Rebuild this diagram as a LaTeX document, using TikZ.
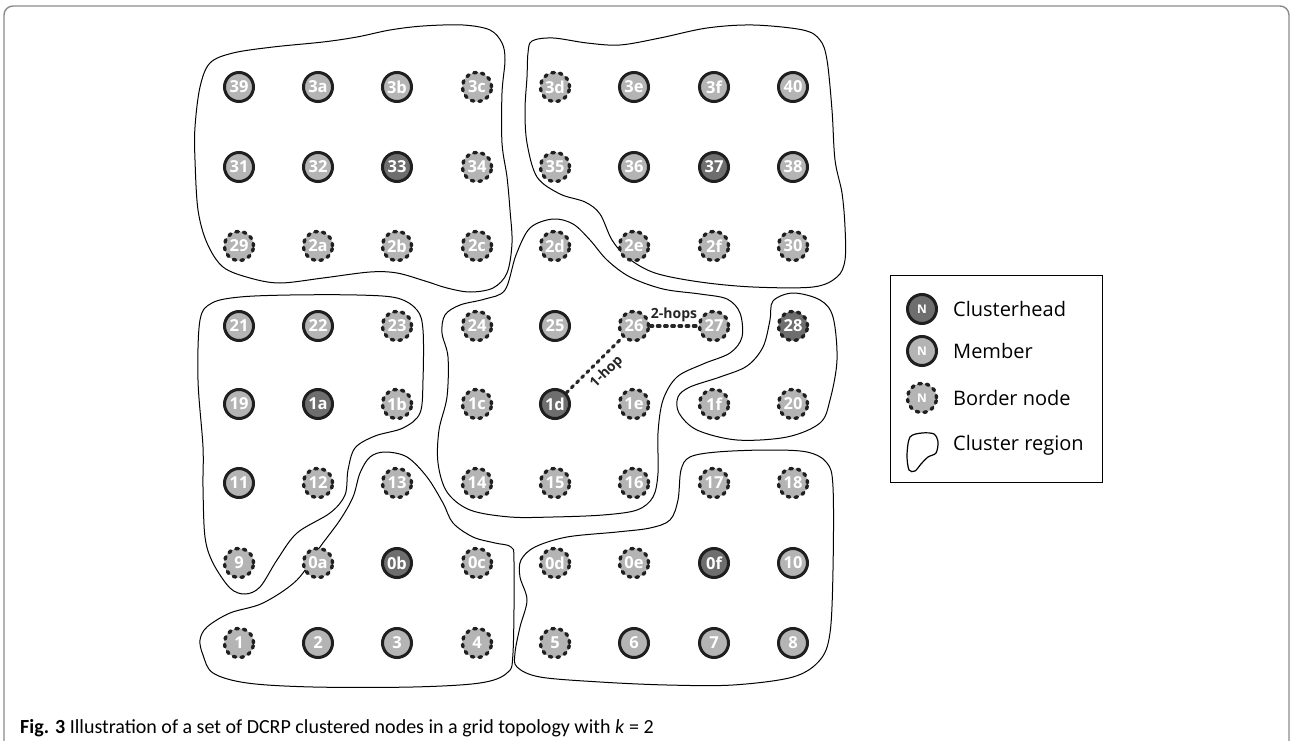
\documentclass[tikz,border=0pt]{standalone}
\usepackage{fontspec}
\setmainfont{Open Sans}
\newfontfamily\capfont{Carlito}
\definecolor{headgray}{HTML}{6E6E6E}
\definecolor{memgray}{HTML}{B4B4B4}
\definecolor{framegray}{HTML}{8A8A8A}
\tikzset{
  nd/.style={circle, minimum size=29pt, inner sep=0pt, line width=3pt,
    draw=black!88, text=white, font=\fontsize{16.5}{16.5}\selectfont\bfseries},
  chead/.style={nd, fill=headgray},
  member/.style={nd, fill=memgray},
  bnode/.style={nd, fill=memgray, line width=3.4pt, dash pattern=on 2.6pt off 5.2pt, line cap=round},
  bhead/.style={bnode, fill=headgray},
  legnd/.style={font=\fontsize{12}{12}\selectfont\bfseries},
  region/.style={line width=1pt, black},
  hop/.style={line width=3.2pt, black!85, dash pattern=on 2.6pt off 4.6pt, line cap=round},
  hoplabel/.style={font=\fontsize{14}{14}\selectfont\bfseries, text=black!85, inner sep=0pt},
  legtext/.style={anchor=west, font=\fontsize{20}{20}\selectfont, inner sep=0pt}
}
\begin{document}
\begin{tikzpicture}[x=1pt, y=-1pt]
\useasboundingbox (0,0) rectangle (1291,741);
% outer frame
\draw[framegray, line width=1.4pt, rounded corners=9pt] (4,6) rectangle (1289,760);

% cluster regions
\draw[region] plot[smooth cycle, tension=0.55] coordinates {
  (210,63) (233,53) (273,47) (323,42) (357,37) (390,30) (423,26) (463,25) (490,30)
  (502,43) (505,60) (502,93) (502,143) (507,177) (510,210) (512,243) (507,273)
  (493,288) (470,292) (447,288) (425,281) (397,273) (370,272) (323,278) (280,283)
  (250,278) (223,267) (207,243) (198,210) (195,160) (195,127) (200,87)};
\draw[region] plot[smooth cycle, tension=0.55] coordinates {
  (528,53) (532,41) (553,38) (587,43) (620,45) (660,38) (707,28) (753,25) (803,30)
  (820,40) (827,60) (832,110) (835,160) (842,193) (845,227) (845,260) (837,277)
  (813,287) (753,287) (700,282) (655,273) (628,258) (612,240) (600,214) (585,202)
  (560,194) (537,177) (527,143) (525,110) (527,77)};
\draw[region] plot[smooth cycle, tension=0.55] coordinates {
  (516,255) (530,228) (553,219) (573,224) (590,240) (607,260) (630,277) (663,289)
  (700,294) (727,299) (740,313) (742,337) (730,353) (703,364) (677,377) (663,400)
  (658,433) (658,473) (653,497) (637,510) (603,515) (553,517) (510,517) (470,510)
  (447,492) (438,463) (439,430) (447,397) (448,357) (442,333) (445,315) (460,305)
  (485,299) (505,290)};
\draw[region] plot[smooth cycle, tension=0.55] coordinates {
  (200,320) (212,303) (240,297) (290,295) (357,295) (397,298) (417,310) (423,330)
  (423,380) (420,413) (403,428) (375,436) (355,448) (348,470) (345,495) (330,513)
  (297,533) (277,560) (260,587) (245,594) (230,588) (213,563) (205,537) (203,487)
  (203,447) (198,380)};
\draw[region] plot[smooth cycle, tension=0.55] coordinates {
  (514,562) (513,653) (507,673) (480,683) (413,687) (313,687) (247,683) (213,673)
  (203,655) (200,640) (207,627) (230,613) (263,603) (297,580) (320,547) (340,520)
  (353,497) (360,473) (370,457) (385,452) (407,457) (427,477) (443,503) (453,523)
  (473,537) (495,543) (511,547)};
\draw[region] plot[smooth cycle, tension=0.55] coordinates {
  (681,470) (690,457) (717,452) (767,450) (807,452) (827,463) (833,487) (833,570)
  (830,633) (820,660) (793,677) (733,685) (667,685) (600,682) (540,677) (517,667)
  (515,653) (520,627) (527,600) (520,577) (521,560) (535,547) (567,537) (617,532)
  (650,528) (670,520) (678,500)};
\draw[region] plot[smooth cycle, tension=0.55] coordinates {
  (773,301) (793,293) (820,300) (833,317) (837,360) (830,400) (820,423) (787,437)
  (737,440) (697,430) (679,413) (678,397) (690,387) (720,377) (747,366) (763,347)
  (770,320)};

% grid of nodes, row by row
\node[member] (n39) at (239,87) {39};
\node[member] (n3a) at (318,87) {3a};
\node[member] (n3b) at (397,87) {3b};
\node[bnode]  (n3c) at (477,87) {3c};
\node[bnode]  (n3d) at (555,87) {3d};
\node[member] (n3e) at (634,87) {3e};
\node[member] (n3f) at (714,87) {3f};
\node[member] (n40) at (793,87) {40};

\node[member] (n31) at (239,167) {31};
\node[member] (n32) at (318,167) {32};
\node[chead]  (n33) at (397,167) {33};
\node[bnode]  (n34) at (477,167) {34};
\node[bnode]  (n35) at (555,167) {35};
\node[member] (n36) at (634,167) {36};
\node[chead]  (n37) at (714,167) {37};
\node[member] (n38) at (793,167) {38};

\node[bnode] (n29) at (239,246) {29};
\node[bnode] (n2a) at (318,246) {2a};
\node[bnode] (n2b) at (397,246) {2b};
\node[bnode] (n2c) at (477,246) {2c};
\node[bnode] (n2d) at (555,246) {2d};
\node[bnode] (n2e) at (634,246) {2e};
\node[bnode] (n2f) at (714,246) {2f};
\node[bnode] (n30) at (793,246) {30};

\node[member] (n21) at (239,326) {21};
\node[member] (n22) at (318,326) {22};
\node[bnode]  (n23) at (397,326) {23};
\node[bnode]  (n24) at (477,326) {24};
\node[member] (n25) at (555,326) {25};
\node[bnode]  (n26) at (634,326) {26};
\node[bnode]  (n27) at (714,326) {27};
\node[bhead]  (n28) at (793,326) {28};

\node[member] (n19) at (239,404) {19};
\node[chead]  (n1a) at (318,404) {1a};
\node[bnode]  (n1b) at (397,404) {1b};
\node[bnode]  (n1c) at (477,404) {1c};
\node[chead]  (n1d) at (555,404) {1d};
\node[bnode]  (n1e) at (634,404) {1e};
\node[bnode]  (n1f) at (714,404) {1f};
\node[bnode]  (n20) at (793,404) {20};

\node[member] (n11) at (239,483) {11};
\node[bnode]  (n12) at (318,483) {12};
\node[bnode]  (n13) at (397,483) {13};
\node[bnode]  (n14) at (477,483) {14};
\node[bnode]  (n15) at (555,483) {15};
\node[bnode]  (n16) at (634,483) {16};
\node[bnode]  (n17) at (714,483) {17};
\node[bnode]  (n18) at (793,483) {18};

\node[bnode]  (n9)  at (239,563) {9};
\node[bnode]  (n0a) at (318,563) {0a};
\node[chead]  (n0b) at (397,563) {0b};
\node[bnode]  (n0c) at (477,563) {0c};
\node[bnode]  (n0d) at (555,563) {0d};
\node[bnode]  (n0e) at (634,563) {0e};
\node[chead]  (n0f) at (714,563) {0f};
\node[member] (n10) at (793,563) {10};

\node[bnode]  (n1) at (239,643) {1};
\node[member] (n2) at (318,643) {2};
\node[member] (n3) at (397,643) {3};
\node[bnode]  (n4) at (477,643) {4};
\node[bnode]  (n5) at (555,643) {5};
\node[member] (n6) at (634,643) {6};
\node[member] (n7) at (714,643) {7};
\node[member] (n8) at (793,643) {8};

% hop distances from the clusterhead 1d
\draw[hop] (n1d) -- (n26) node[hoplabel, pos=0.55, sloped, below=5pt] {1-hop};
\draw[hop] (n26) -- (n27) node[hoplabel, midway, above=3pt] {2-hops};

% legend
\node[draw=black, line width=1.4pt, minimum width=212pt, minimum height=207pt,
      anchor=north west, inner sep=0pt] (legbox) at (890,275) {};
\node[chead, legnd] (lgh) at (922,309) {N};
\node[member, legnd] (lgm) at (922,351) {N};
\node[bnode, legnd] (lgb) at (922,398) {N};
\draw[region, line width=1.2pt] plot[smooth cycle, tension=0.5] coordinates {
  (910,437) (922,433) (934,434) (938,442) (936,453) (928,457) (921,464) (915,471)
  (909,470) (907,455)};
\node[legtext] (tgh) at (953,309) {Clusterhead};
\node[legtext] (tgm) at (953,351) {Member};
\node[legtext] (tgb) at (953,398) {Border node};
\node[legtext] (tgr) at (953,445) {Cluster region};

% caption
\node[anchor=base west, inner sep=0pt, font=\capfont\fontsize{20}{20}\selectfont] (cap) at (20,733)
  {\textbf{Fig. 3} Illustration of a set of DCRP clustered nodes in a grid topology with \textit{k} = 2};
\end{tikzpicture}
\end{document}
